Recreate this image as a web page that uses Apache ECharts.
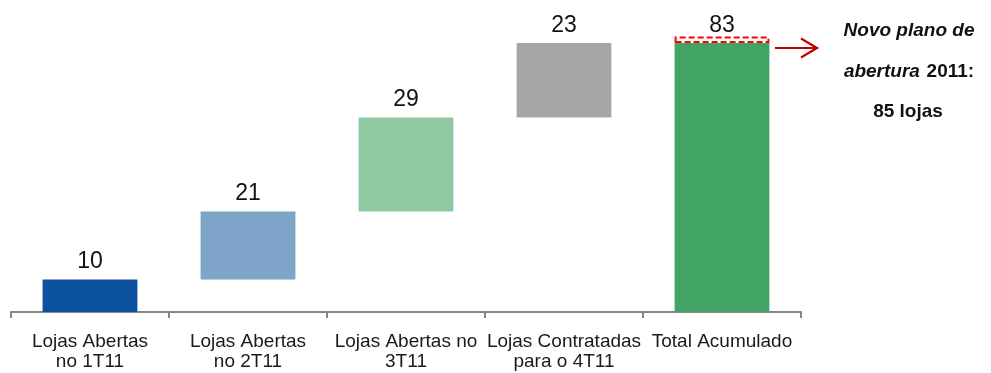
<!DOCTYPE html>
<html>
<head>
<meta charset="utf-8">
<script src="https://cdn.jsdelivr.net/npm/echarts@6/dist/echarts.min.js"></script>
<style>
  html, body { margin: 0; padding: 0; background: #fff; }
  #chart { width: 991px; height: 373px; }
</style>
</head>
<body>
<div id="chart"></div>
<script>
// Store openings for 2011, shown as a waterfall
const categories = [
  'Lojas Abertas\nno 1T11',
  'Lojas Abertas\nno 2T11',
  'Lojas Abertas no\n3T11',
  'Lojas Contratadas\npara o 4T11',
  'Total Acumulado'
];
const quarterStores = [10, 21, 29, 23];
const totalStores = 83;
const plannedStores = 85;
const barColors = ['#0B51A0', '#7EA4C9', '#90C9A1', '#A6A6A6', '#41A465'];

// Invisible offsets that lift each quarter's bar onto the running total
const offsets = [];
let running = 0;
quarterStores.forEach(v => { offsets.push(running); running += v; });
offsets.push(0);

const barValues = quarterStores.concat([totalStores]);
const planGap = [null, null, null, null, plannedStores - totalStores];

const sans = "'Liberation Sans', Arial, sans-serif";

const chart = echarts.init(document.getElementById('chart'), null, { renderer: 'canvas' });

chart.setOption({
  animation: false,
  grid: { left: 11, right: 190, top: 20.3, bottom: 61 },
  xAxis: {
    type: 'category',
    data: categories,
    axisLine: { lineStyle: { color: '#868686', width: 2 } },
    axisTick: { show: true, length: 6, lineStyle: { color: '#868686', width: 2 } },
    axisLabel: {
      interval: 0,
      margin: 20,
      color: '#1a1a1a',
      fontFamily: sans,
      fontSize: 19,
      lineHeight: 20
    }
  },
  yAxis: {
    type: 'value',
    min: 0,
    max: 90,
    show: false,
    splitLine: { show: false }
  },
  series: [
    {
      name: 'base',
      type: 'bar',
      stack: 'w',
      barWidth: '60%',
      silent: true,
      itemStyle: { color: 'transparent' },
      data: offsets
    },
    {
      name: 'lojas',
      type: 'bar',
      stack: 'w',
      barWidth: '60%',
      data: barValues.map((v, i) => ({ value: v, itemStyle: { color: barColors[i] } })),
      label: {
        show: true,
        position: 'top',
        distance: 6,
        color: '#111',
        fontFamily: sans,
        fontSize: 23
      }
    },
    {
      name: 'plano',
      type: 'bar',
      stack: 'w',
      barWidth: '60%',
      silent: true,
      itemStyle: {
        color: 'transparent',
        borderColor: '#FF0000',
        borderWidth: 2,
        borderType: [6, 3]
      },
      data: planGap
    }
  ],
  graphic: [
    {
      type: 'group',
      children: [
        {
          type: 'line',
          shape: { x1: 775, y1: 48, x2: 816, y2: 48 },
          style: { stroke: '#C00000', lineWidth: 2.2 }
        },
        {
          type: 'polyline',
          shape: { points: [[801, 38.5], [817, 48], [801, 57.5]] },
          style: { stroke: '#C00000', lineWidth: 2.2, fill: null }
        }
      ]
    },
    {
      type: 'text',
      x: 909, y: 31,
      style: {
        text: 'Novo plano de',
        font: 'italic bold 19px ' + sans,
        fill: '#111',
        align: 'center',
        verticalAlign: 'middle'
      }
    },
    {
      type: 'text',
      x: 909, y: 72,
      style: {
        text: '{i|abertura}  {b|2011:}',
        align: 'center',
        verticalAlign: 'middle',
        rich: {
          i: { font: 'italic bold 19px ' + sans, fill: '#111' },
          b: { font: 'bold 19px ' + sans, fill: '#111' }
        }
      }
    },
    {
      type: 'text',
      x: 908, y: 112,
      style: {
        text: '85 lojas',
        font: 'bold 19px ' + sans,
        fill: '#111',
        align: 'center',
        verticalAlign: 'middle'
      }
    }
  ]
});
</script>
</body>
</html>
